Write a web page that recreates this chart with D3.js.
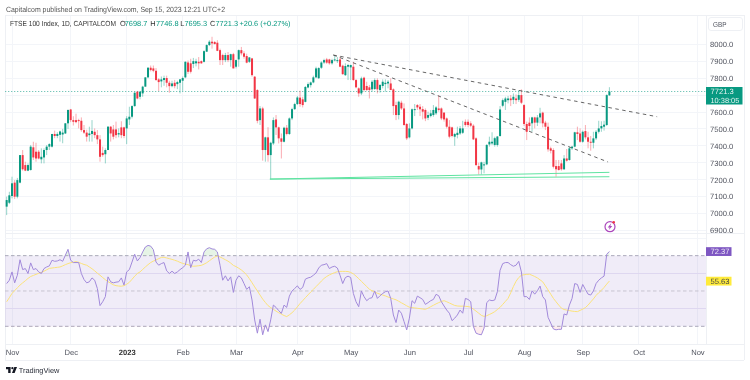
<!DOCTYPE html>
<html><head><meta charset="utf-8">
<script src="https://cdn.jsdelivr.net/npm/d3@7"></script>
<style>
html,body{margin:0;padding:0;background:#fff;overflow:hidden}
svg{display:block;font-family:"Liberation Sans",Arial,sans-serif;filter:blur(.35px);text-rendering:geometricPrecision}
</style></head><body>
<svg id="c" width="750" height="380"></svg>
<script>
const opens=[7040,7063,7103,7182,7099,7182,7345,7286,7253,7257,
7391,7365,7365,7320,7331,7375,7395,7395,7470,7458,
7465,7467,7473,7533,7615,7552,7552,7552,7548,7493,
7478,7463,7470,7483,7463,7438,7358,7350,7375,7513,
7497,7497,7467,7509,7509,7503,7556,7572,7635,7720,
7690,7710,7750,7805,7862,7858,7844,7793,7781,7789,
7801,7773,7753,7773,7765,7773,7785,7805,7893,7888,
7884,7888,7897,7901,7897,7957,7996,8016,8014,8010,
7966,7937,7907,7937,7907,7942,7868,7911,7966,7947,
7931,7897,
7917,7809,7730,7552,7621,7375,7450,7345,7414,7556,
7509,7444,7424,7507,7470,7562,7617,7647,7685,7675,
7660,7745,7759,7775,7805,7800,7862,7893,7911,7911,
7888,7905,7905,7911,7874,7818,7868,7864,7868,7789,
7740,7710,7803,7754,7746,7734,7736,7789,7730,7754,
7765,7769,7769,7734,7641,7582,7655,7621,7529,7450,
7503,7612,7641,7631,7617,7612,7566,7576,7582,7592,
7621,7621,7596,7562,7513,7509,7454,7464,7473,7477,
7542,7542,7533,7519,7444,7280,7260,7287,7290,7408,
7414,7405,7405,7458,
7637,7660,7670,7680,7672,7680,7672,7700,
7641,7529,7537,7533,7568,7537,7568,7596,7537,7513,
7385,7375,7280,7280,7296,7261,7325,7316,7385,7395,
7480,7473,7424,7487,7450,7424,7418,7444,7483,7503,
7513,7523,7698.7];
const highs=[7099,7128,7217,7197,7210,7345,7375,7306,7296,7405,
7424,7418,7375,7385,7385,7405,7415,7470,7490,7480,
7490,7500,7535,7615,7618,7575,7590,7560,7568,7523,
7495,7513,7552,7503,7493,7463,7395,7385,7517,7517,
7523,7543,7503,7545,7513,7575,7631,7640,7720,7725,
7725,7755,7805,7865,7875,7875,7860,7800,7810,7815,
7815,7785,7785,7790,7785,7795,7810,7900,7905,7915,
7920,7915,7925,7905,7965,8000,8025,8045,8020,8025,
7975,7945,7950,7955,7945,7950,7910,7970,7985,7960,
7945,7925,
7920,7813,7735,7635,7631,7454,7510,7424,7568,7582,
7513,7473,7513,7523,7568,7625,7655,7695,7726,7690,
7754,7775,7780,7815,7868,7865,7900,7915,7920,7915,
7915,7937,7925,7927,7880,7888,7885,7880,7897,7795,
7746,7809,7809,7779,7760,7789,7799,7799,7765,7793,
7793,7789,7799,7740,7661,7667,7667,7651,7535,7533,
7621,7647,7647,7647,7635,7621,7602,7612,7641,7635,
7700,7627,7600,7568,7552,7513,7477,7513,7517,7548,
7556,7556,7545,7527,7450,7300,7306,7305,7410,7454,
7480,7454,7458,7635,
7680,7690,7695,7700,7710,7704,7730,7734,
7647,7543,7568,7572,7572,7582,7625,7602,7548,7537,
7395,7385,7316,7316,7316,7345,7381,7395,7400,7483,
7513,7503,7490,7523,7483,7458,7483,7493,7548,7545,
7548,7705,7746.8];
const lows=[6990,7055,7089,7085,7089,7178,7253,7250,7250,7253,
7316,7306,7320,7296,7296,7345,7375,7390,7445,7445,
7425,7415,7470,7500,7540,7520,7533,7503,7483,7470,
7425,7425,7425,7445,7410,7306,7335,7296,7375,7425,
7438,7445,7450,7445,7445,7410,7523,7562,7631,7675,
7675,7690,7750,7800,7840,7835,7785,7724,7746,7755,
7746,7714,7746,7740,7735,7710,7725,7800,7825,7828,
7860,7870,7852,7885,7893,7955,7990,7975,8000,7960,
7878,7878,7895,7895,7868,7858,7858,7868,7935,7915,
7888,7890,
7809,7677,7533,7523,7312,7306,7306,7203,7405,7464,
7414,7325,7420,7462,7464,7552,7612,7641,7631,7627,
7657,7740,7745,7770,7800,7795,7855,7885,7885,7880,
7880,7900,7890,7865,7820,7813,7789,7789,7785,7740,
7690,7700,7720,7725,7680,7720,7730,7710,7714,7740,
7720,7740,7730,7582,7552,7556,7612,7519,7434,7444,
7497,7576,7612,7576,7556,7546,7552,7568,7572,7582,
7602,7552,7543,7503,7444,7450,7400,7444,7464,7470,
7513,7510,7510,7434,7280,7230,7230,7237,7285,7395,
7405,7395,7395,7454,
7628,7612,7651,7635,7647,7647,7660,7647,
7517,7434,7490,7483,7503,7517,7533,7509,7493,7365,
7355,7266,7217,7253,7253,7257,7306,7312,7375,7391,
7434,7418,7418,7438,7385,7371,7385,7434,7473,7483,
7490,7517,7695.3];
const closes=[7079,7107,7178,7099,7197,7345,7261,7253,7286,7395,
7331,7325,7325,7335,7375,7395,7410,7470,7458,7470,
7485,7478,7533,7612,7552,7542,7540,7548,7493,7478,
7454,7473,7488,7463,7438,7335,7345,7375,7513,7473,
7454,7463,7475,7463,7458,7562,7572,7635,7714,7680,
7720,7750,7805,7862,7848,7844,7789,7777,7793,7801,
7773,7753,7769,7753,7777,7793,7801,7897,7838,7838,
7901,7900,7888,7888,7960,7996,8016,8006,8002,7962,
7907,7907,7937,7907,7942,7858,7907,7966,7947,7927,
7892,7923,
7818,7680,7548,7621,7375,7450,7345,7418,7552,7509,
7444,7424,7507,7470,7562,7617,7647,7686,7647,7641,
7748,7765,7775,7805,7858,7860,7893,7907,7892,7888,
7907,7911,7907,7868,7824,7872,7878,7878,7789,7746,
7710,7799,7730,7730,7730,7779,7789,7734,7760,7779,
7773,7779,7730,7635,7582,7661,7621,7523,7444,7503,
7616,7617,7627,7616,7602,7562,7582,7592,7612,7627,
7612,7562,7556,7513,7454,7458,7470,7477,7503,7503,
7523,7523,7519,7438,7286,7260,7302,7290,7405,7424,
7424,7445,7455,7615,
7670,7680,7680,7670,7690,7670,7700,7655,
7529,7483,7517,7568,7537,7568,7592,7533,7513,7379,
7371,7276,7261,7257,7261,7325,7312,7385,7395,7480,
7470,7424,7483,7450,7424,7418,7444,7483,7503,7517,
7525,7700,7721.3];
const rsiValues=[54.2,56.1,60.8,54.6,58.9,67.7,62.1,62.7,59.9,65.9,
62.1,62.7,60.8,59.9,62.7,63.6,64.2,67.4,66.8,67,
67.7,66.8,70.2,73.6,67.4,66.1,66.1,66.1,59.9,56.5,
54.6,55.2,57.4,56.1,51.4,41.7,43.9,46.8,58,55.2,
54.6,55,55.2,57.4,53.3,60.8,62.1,66.4,70.8,67,
68.9,72.1,74.9,75.8,75.4,73.4,66.4,64.6,65.5,66.1,
61.4,59.9,61.2,59.9,60.8,62.1,63.2,64.6,72.1,63.2,
67.4,67,68,66.1,72.1,73.9,74.5,73.8,73.6,72.1,
64.6,56.1,58.6,55.7,58,49.2,56.1,58.6,57.4,54.2,
50.9,52.4,44.9,33.6,26.1,34,25.2,30.8,27,33.6,
42,40.7,38.9,37.3,42,40.7,47.1,50,51.4,52.9,
50.9,52,56.7,57.4,57.8,58.9,60.2,63,64.6,64.9,
65.5,62.7,63.6,64,63,58.9,54.2,57.6,58.4,57.6,
48.6,43.9,41.1,50,46.8,44.5,45.8,46.2,50,45.8,
47.3,48.6,49.6,50,45.8,36.4,32.1,39.2,37.4,32.7,
28,34.6,44.5,43,47.1,46.2,45.2,42.4,43.4,44.5,
45.2,48.1,47.3,43.9,41.5,39.2,37.4,33.2,34.6,36.4,
39.2,37.4,45.8,45.2,43.9,29.9,26.1,25.5,25.2,29,
43.4,44.9,44.5,44.9,49.6,61.7,65.5,66.1,66.1,64.9,
64,64.6,66.8,60.8,46.8,46.8,45.2,50.1,48.2,50.1,
52.8,46.8,44.9,35.1,31.8,28.5,28,28.3,28.3,37,
36.4,42,45.8,54.2,53.7,49.2,53.7,50.9,48.2,47.7,
50,54.2,56.1,57.4,58.4,70.8,72.37];
const rsiAverage=[43.9,46.2,48.6,50.2,51.8,53.3,54.6,55.8,57.1,58.2,
58.8,59.4,60,60.5,61.2,62,62.8,63,63.2,63.4,
63.6,64.2,64.9,65.5,66,66.3,66.6,66.2,65.6,65,
64.6,63.6,62.6,61.4,60.1,58.9,57.6,56.4,55.3,54.4,
53.5,53,52.8,52.7,53,53.8,54.9,56.6,58.4,59.9,
60.8,62.2,63.6,64.9,66.1,66.9,67.6,68.3,69,69.1,
68.7,68.3,67.9,67.4,66.9,66.2,65.6,65.2,64.9,64.3,
64,64.1,64.3,64.5,65.2,66,67.1,68.2,69.2,69.8,
69.3,68.5,67.7,66.9,65.8,64.5,63.8,62.9,61.9,60.6,
59.1,57,54.7,52.3,50,47.7,45.4,43.5,41.7,40.6,
39.6,38.6,37.7,36.9,36.1,35.5,36.5,37.7,39.2,41,
42.9,44.5,46.2,47.8,49.4,50.9,52.5,54,55.6,57.1,
58.2,59.1,59.8,60.4,60.9,61.1,61.1,61.1,61,60.5,
59.7,58.4,57,55.5,54,52.5,51,50.1,49.5,48.7,
48.2,47.7,47.2,46.6,46,45.5,45,44.2,43.3,42.5,
41.6,40.8,40.6,40.4,40.2,40,39.8,39.6,40.3,41.1,
41.9,42.7,43.4,44.1,44.5,43.9,43.2,42.5,41.8,41.5,
41.4,41.4,41.3,41.2,40.8,39.7,38.6,37.4,36.2,35.6,
36,36.7,37.4,38.3,39.5,40.7,42.4,44.1,45.8,49,
52.5,55.5,57.6,58.9,59.2,59.4,59.5,58.9,58.2,57.4,
56.3,55.2,52.9,50.6,48.2,45.8,43.9,42,40.3,39.5,
39.2,38.9,38.6,38.4,38.3,39,39.7,40.6,42,43.8,
45.5,47.5,49,50.4,52,53.9,55.63];

const monthLabels=["Nov","Dec","2023","Feb","Mar","Apr","May","Jun","Jul","Aug","Sep","Oct","Nov"];
const monthBars=[2,24,45,66,86,109,129,151,173,194,216,237,259];
const priceTicks=[8000,7900,7800,7700,7600,7500,7400,7300,7200,7100,7000,6900];
const rsiTicks=[80,70,60,50,40,30,20];
const rsiLevels=[70,50,30];
const trendDashed=[[[122.5,7937],[243.9,7572]],[[122.5,7937],[225.5,7304]]];
const trendGreen=[[[98.7,7203],[226,7243]],[[98.7,7203],[226,7217]]];

const UP="#089981",DOWN="#F23645",GRID="#F3F5F9",EDGE="#EEF0F4",AXC="#50535E";
const svg=d3.select("#c");
const L=5,R=706,RE=744,T=15,PB=233,RB=344,B=360;
const x=d3.scaleLinear().domain([0,226]).range([6.67,609.4]);
const y=d3.scaleLinear().domain([6900,8000]).range([230.3,44.4]);
const yr=d3.scaleLinear().domain([30,80]).range([326.3,238]);
const bars=d3.range(opens.length);

svg.append("defs").call(d=>{
  d.append("clipPath").attr("id","pp").append("rect").attr("x",L).attr("y",T).attr("width",R-L).attr("height",PB-T);
  d.append("clipPath").attr("id","pr").append("rect").attr("x",L).attr("y",PB).attr("width",R-L).attr("height",RB-PB);
  d.append("clipPath").attr("id","ra").append("rect").attr("x",R).attr("y",PB).attr("width",RE-R).attr("height",RB-PB);
  d.append("clipPath").attr("id","over").append("rect").attr("x",L).attr("y",PB).attr("width",R-L).attr("height",yr(70)-PB);
  d.append("clipPath").attr("id","under").append("rect").attr("x",L).attr("y",yr(30)).attr("width",R-L).attr("height",RB-yr(30));
});

// grid
const g=svg.append("g").attr("shape-rendering","crispEdges");
g.selectAll(".vp").data(monthBars).join("line").attr("x1",d=>x(d)).attr("x2",d=>x(d)).attr("y1",T).attr("y2",RB).attr("stroke",GRID);
g.selectAll(".hp").data(priceTicks).join("line").attr("x1",L).attr("x2",R).attr("y1",d=>y(d)).attr("y2",d=>y(d)).attr("stroke",GRID);
[[L,T,RE,T],[L,PB,RE,PB],[L,RB,RE,RB],[L,B,RE,B],[L,T,L,B],[R,T,R,RB],[RE,T,RE,B]].forEach(a=>
  g.append("line").attr("x1",a[0]).attr("y1",a[1]).attr("x2",a[2]).attr("y2",a[3]).attr("stroke",EDGE));

// RSI band and levels
svg.append("rect").attr("x",L).attr("y",yr(70)).attr("width",R-L).attr("height",yr(30)-yr(70)).attr("fill","#7E57C2").attr("fill-opacity",.115);
g.selectAll(".hr").data(rsiTicks.filter(d=>d===60||d===40)).join("line").attr("x1",L).attr("x2",R).attr("y1",d=>yr(d)).attr("y2",d=>yr(d)).attr("stroke","#EBE8F6");
g.append("line").attr("x1",L).attr("x2",R).attr("y1",yr(80)).attr("y2",yr(80)).attr("stroke",GRID);
svg.append("g").selectAll("line").data(rsiLevels).join("line").attr("x1",L).attr("x2",R)
 .attr("y1",d=>yr(d)).attr("y2",d=>yr(d)).attr("stroke",d=>d===50?"#C2C0CC":"#A3A0B4").attr("stroke-dasharray","3.5 2.5").attr("stroke-width",.9);

// current price line
svg.append("line").attr("x1",L).attr("x2",R).attr("y1",y(closes[226])).attr("y2",y(closes[226])).attr("stroke",UP).attr("stroke-opacity",.55).attr("stroke-dasharray","1.3 1.7");

// candles
const cg=svg.append("g").attr("clip-path","url(#pp)");
cg.selectAll(".w").data(bars).join("line").attr("x1",i=>x(i)).attr("x2",i=>x(i)).attr("y1",i=>y(highs[i])).attr("y2",i=>y(lows[i]))
  .attr("stroke",i=>closes[i]>=opens[i]?UP:DOWN).attr("stroke-width",1).attr("stroke-opacity",.42);
cg.selectAll(".b").data(bars).join("rect").attr("x",i=>x(i)-1).attr("width",2)
  .attr("y",i=>y(Math.max(opens[i],closes[i]))).attr("height",i=>Math.max(1,Math.abs(y(opens[i])-y(closes[i]))))
  .attr("fill",i=>closes[i]>=opens[i]?UP:DOWN);

// trendlines
const tl=svg.append("g").attr("clip-path","url(#pp)").attr("fill","none");
tl.selectAll(".d").data(trendDashed).join("line").attr("x1",d=>x(d[0][0])).attr("y1",d=>y(d[0][1])).attr("x2",d=>x(d[1][0])).attr("y2",d=>y(d[1][1]))
  .attr("stroke","#555").attr("stroke-width",.9).attr("stroke-dasharray","3.5 3.5");
tl.selectAll(".g").data(trendGreen).join("line").attr("x1",d=>x(d[0][0])).attr("y1",d=>y(d[0][1])).attr("x2",d=>x(d[1][0])).attr("y2",d=>y(d[1][1]))
  .attr("stroke","#5FE3A1").attr("stroke-width",1);

// RSI lines
const rg=svg.append("g").attr("clip-path","url(#pr)").attr("fill","none");
const line=d3.line().x((v,i)=>x(i)).y(v=>yr(v));
const a70=d3.area().x((v,i)=>x(i)).y0(yr(70)).y1(v=>yr(v));
const a30=d3.area().x((v,i)=>x(i)).y0(yr(30)).y1(v=>yr(v));
rg.append("path").attr("d",a70(rsiValues)).attr("fill","#4CAF50").attr("fill-opacity",.14).attr("clip-path","url(#over)");
rg.append("path").attr("d",a30(rsiValues)).attr("fill","#F23645").attr("fill-opacity",.09).attr("clip-path","url(#under)");
rg.append("path").attr("d",line(rsiAverage)).attr("stroke","#FBE27A").attr("stroke-width",1);
rg.append("path").attr("d",line(rsiValues)).attr("stroke","#A189DA").attr("stroke-width",1);

// axes
const ax=svg.append("g").attr("transform",`translate(${R+2},0)`)
 .call(d3.axisRight(y).tickValues(priceTicks).tickFormat(d3.format(".1f")).tickSize(0).tickPadding(2));
const ax2=svg.append("g").attr("transform",`translate(${R+2},0)`).attr("clip-path","url(#ra)")
 .call(d3.axisRight(yr).tickValues(rsiTicks).tickFormat(d3.format(".2f")).tickSize(0).tickPadding(2));
const ax3=svg.append("g").attr("transform",`translate(0,347.5)`)
 .call(d3.axisBottom(x).tickValues(monthBars).tickFormat((d,i)=>monthLabels[i]).tickSize(0).tickPadding(2));
[ax,ax2,ax3].forEach(a=>{a.select(".domain").remove();a.selectAll("text").attr("fill",AXC).attr("font-size",7.6).attr("font-family","'Liberation Sans',Arial,sans-serif");});
ax3.selectAll("text").filter((d,i)=>monthLabels[i]==="2023").attr("font-weight","bold").attr("fill","#333");

// value badges
svg.append("rect").attr("x",706).attr("y",y(closes[226])-4.5).attr("width",36.5).attr("height",17.5).attr("fill",UP);
svg.append("text").attr("x",710.5).attr("y",y(closes[226])+2.5).attr("fill","#E4F4F1").attr("font-size",7.6).text(d3.format(".1f")(closes[226]));
svg.append("text").attr("x",710.5).attr("y",y(closes[226])+11.3).attr("fill","#E4F4F1").attr("font-size",7.4).text("10:38:05");
svg.append("rect").attr("x",706).attr("y",yr(rsiValues[226])-4.3).attr("width",25.5).attr("height",8.8).attr("fill","#7E57C2");
svg.append("text").attr("x",710.5).attr("y",yr(rsiValues[226])+2.8).attr("fill","#EDE7F6").attr("font-size",7.6).text(d3.format(".2f")(rsiValues[226]));
svg.append("rect").attr("x",706).attr("y",yr(rsiAverage[226])-4.3).attr("width",25.5).attr("height",8.8).attr("fill","#FFEB3B");
svg.append("text").attr("x",710.5).attr("y",yr(rsiAverage[226])+2.8).attr("fill","#444").attr("font-size",7.6).text(d3.format(".2f")(rsiAverage[226]));

// GBP button
svg.append("rect").attr("x",708.5).attr("y",17.5).attr("width",34).attr("height",13).attr("rx",2.5).attr("fill","#fff").attr("stroke",EDGE);
svg.append("text").attr("x",713).attr("y",26.5).attr("fill",AXC).attr("font-size",7.2).attr("textLength",13.5).attr("lengthAdjust","spacingAndGlyphs").text("GBP");

// header
svg.append("text").attr("x",6).attr("y",11.7).attr("fill","#555").attr("font-size",7.6).attr("textLength",219).attr("lengthAdjust","spacingAndGlyphs").text("Capitalcom published on TradingView.com, Sep 15, 2023 12:21 UTC+2");
const lg=[["FTSE 100 Index, 1D, CAPITALCOM",10,"#333",106],["O",120,"#333",0],["7698.7",124.7,UP,0],["H",150.3,"#333",0],["7746.8",156,UP,0],["L",180.3,"#333",0],["7695.3",184.5,UP,0],["C",210,"#333",0],["7721.3",215.5,UP,0],["+20.6 (+0.27%)",239.5,UP,0]];
svg.append("g").selectAll("text").data(lg).join("text").attr("x",d=>d[1]).attr("y",26.3).attr("fill",d=>d[2]).attr("font-size",7.4)
  .each(function(d){ if(d[3]) d3.select(this).attr("textLength",d[3]).attr("lengthAdjust","spacingAndGlyphs"); }).text(d=>d[0]);

// lightning icon
const ic=svg.append("g").attr("transform","translate(610,226.7)");
ic.append("circle").attr("r",5).attr("fill","#fff").attr("stroke","#AB47BC").attr("stroke-width",1.2);
ic.append("path").attr("d","M1.2 -3.4 L-2.3 0.7 L-0.3 0.7 L-1.2 3.4 L2.3 -0.8 L0.3 -0.8 Z").attr("fill","#AB47BC");
ic.append("circle").attr("cx",3.7).attr("cy",-4.4).attr("r",1.3).attr("fill","#F23645");

// TradingView logo
const lg2=svg.append("g").attr("transform","translate(6,367)").attr("fill","#131722");
lg2.append("path").attr("d","M0 0 H4.6 V6 H2.2 V2.2 H0 Z");
lg2.append("circle").attr("cx",6.4).attr("cy",1.2).attr("r",1.15);
lg2.append("path").attr("d","M8.3 0 H11 L8.6 6 H6 Z");
svg.append("text").attr("x",18.7).attr("y",373).attr("fill","#2A2E39").attr("font-size",7.4).text("TradingView");
</script>
</body></html>
